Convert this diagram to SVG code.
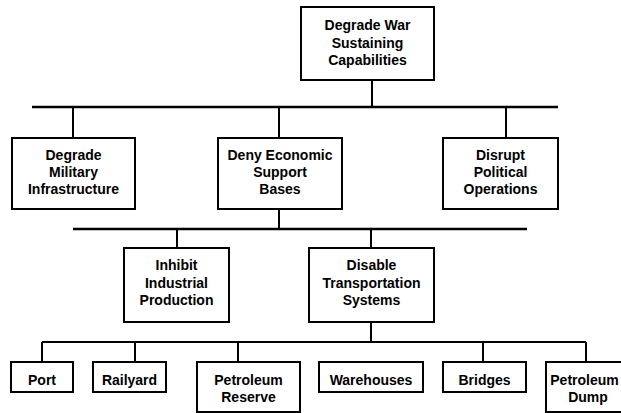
<svg xmlns="http://www.w3.org/2000/svg" width="621" height="413" viewBox="0 0 621 413">
<style>
.box{fill:#fff;stroke:#000;stroke-width:2}
.t{font-family:"Liberation Sans",Arial,sans-serif;font-weight:bold;font-size:14px;text-anchor:middle;fill:#000}
.c{stroke:#000;stroke-width:2;fill:none}
.h{stroke:#000;stroke-width:2.5;fill:none}
</style>
<rect width="621" height="413" fill="#fff"/>
<g id="connectors">
<line class="c" x1="372" y1="80" x2="372" y2="107"/>
<line class="h" x1="32" y1="107" x2="558" y2="107"/>
<line class="c" x1="73" y1="107" x2="73" y2="138"/>
<line class="c" x1="279" y1="107" x2="279" y2="138"/>
<line class="c" x1="506" y1="107" x2="506" y2="138"/>
<line class="c" x1="279" y1="209" x2="279" y2="229"/>
<line class="h" x1="73" y1="229" x2="527" y2="229"/>
<line class="c" x1="177" y1="229" x2="177" y2="248"/>
<line class="c" x1="371" y1="229" x2="371" y2="248"/>
<line class="c" x1="371" y1="322" x2="371" y2="342"/>
<line class="c" x1="42" y1="342" x2="586" y2="342"/>
<line class="c" x1="42" y1="342" x2="42" y2="362"/>
<line class="c" x1="135" y1="342" x2="135" y2="362"/>
<line class="c" x1="238" y1="342" x2="238" y2="362"/>
<line class="c" x1="483" y1="342" x2="483" y2="362"/>
<line class="c" x1="586" y1="342" x2="586" y2="362"/>
</g>
<g id="n-top">
<rect class="box" x="301" y="7" width="133" height="73"/>
<text class="t" x="367.5" y="30">Degrade War</text>
<text class="t" x="367.5" y="47.5">Sustaining</text>
<text class="t" x="367.5" y="65">Capabilities</text>
</g>
<g id="n-military">
<rect class="box" x="12" y="138" width="123" height="71"/>
<text class="t" x="73.5" y="160">Degrade</text>
<text class="t" x="73.5" y="177">Military</text>
<text class="t" x="73.5" y="194">Infrastructure</text>
</g>
<g id="n-economic">
<rect class="box" x="218" y="138" width="124" height="71"/>
<text class="t" x="280" y="160">Deny Economic</text>
<text class="t" x="280" y="177">Support</text>
<text class="t" x="280" y="194">Bases</text>
</g>
<g id="n-political">
<rect class="box" x="443" y="138" width="115" height="71"/>
<text class="t" x="500.5" y="160">Disrupt</text>
<text class="t" x="500.5" y="177">Political</text>
<text class="t" x="500.5" y="194">Operations</text>
</g>
<g id="n-industrial">
<rect class="box" x="124" y="248" width="105" height="74"/>
<text class="t" x="176.5" y="270">Inhibit</text>
<text class="t" x="176.5" y="288">Industrial</text>
<text class="t" x="176.5" y="305">Production</text>
</g>
<g id="n-transport">
<rect class="box" x="309" y="248" width="125" height="74"/>
<text class="t" x="371.5" y="270">Disable</text>
<text class="t" x="371.5" y="288">Transportation</text>
<text class="t" x="371.5" y="305">Systems</text>
</g>
<g id="n-port">
<rect class="box" x="11" y="362" width="62" height="30"/>
<text class="t" x="42" y="385">Port</text>
</g>
<g id="n-railyard">
<rect class="box" x="93" y="362" width="73" height="30"/>
<text class="t" x="129.5" y="385">Railyard</text>
</g>
<g id="n-reserve">
<rect class="box" x="197" y="362" width="103" height="50"/>
<text class="t" x="248.5" y="385">Petroleum</text>
<text class="t" x="248.5" y="402">Reserve</text>
</g>
<g id="n-warehouses">
<rect class="box" x="319" y="362" width="104" height="30"/>
<text class="t" x="371" y="385">Warehouses</text>
</g>
<g id="n-bridges">
<rect class="box" x="443" y="362" width="83" height="30"/>
<text class="t" x="484.5" y="385">Bridges</text>
</g>
<g id="n-dump">
<rect class="box" x="546" y="362" width="88" height="50"/>
<text class="t" x="584.5" y="385">Petroleum</text>
<text class="t" x="588" y="402">Dump</text>
</g>
</svg>
